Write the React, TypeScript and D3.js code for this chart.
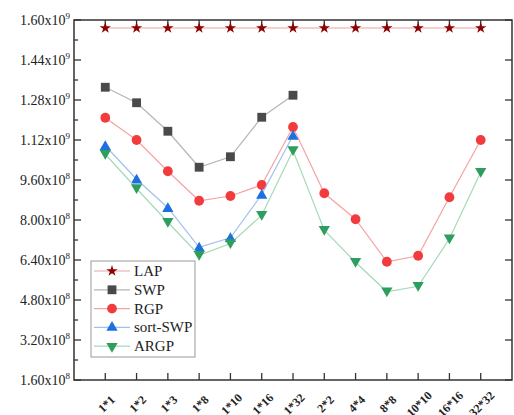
import React, { useEffect, useRef } from 'react';
import * as d3 from 'd3';

// categories and series
const categories = ['1*1', '1*2', '1*3', '1*8', '1*10', '1*16', '1*32', '2*2', '4*4', '8*8', '10*10', '16*16', '32*32'];
const lapValues = [1.568e9, 1.568e9, 1.568e9, 1.568e9, 1.568e9, 1.568e9, 1.568e9, 1.568e9, 1.568e9, 1.568e9, 1.568e9, 1.568e9, 1.568e9];
const swpValues = [1.331e9, 1.269e9, 1.155e9, 1.011e9, 1.053e9, 1.211e9, 1.299e9];
const rgpValues = [1.209e9, 1.12e9, 0.995e9, 0.877e9, 0.896e9, 0.94e9, 1.172e9, 0.907e9, 0.803e9, 0.633e9, 0.657e9, 0.891e9, 1.12e9];
const sortSwpValues = [1.097e9, 0.963e9, 0.849e9, 0.691e9, 0.729e9, 0.902e9, 1.138e9];
const argpValues = [1.063e9, 0.926e9, 0.791e9, 0.659e9, 0.706e9, 0.819e9, 1.078e9, 0.759e9, 0.631e9, 0.513e9, 0.535e9, 0.725e9, 0.991e9];
const yTicks = [1.6e8, 3.2e8, 4.8e8, 6.4e8, 8.0e8, 9.6e8, 1.12e9, 1.28e9, 1.44e9, 1.6e9];

const series = [
  { name: 'LAP', values: lapValues, symbol: d3.symbolStar, size: 40, fill: '#8b0000', line: '#eaa3a3', rotate: 0 },
  { name: 'SWP', values: swpValues, symbol: d3.symbolSquare, size: 78, fill: '#4a4a4a', line: '#b5b5b5', rotate: 0 },
  { name: 'RGP', values: rgpValues, symbol: d3.symbolCircle, size: 75, fill: '#f23b3d', line: '#f6a3a3', rotate: 0 },
  { name: 'sort-SWP', values: sortSwpValues, symbol: d3.symbolTriangle, size: 55, fill: '#1e6fe0', line: '#9fc0f0', rotate: 0 },
  { name: 'ARGP', values: argpValues, symbol: d3.symbolTriangle, size: 55, fill: '#2e9e5e', line: '#a3dbb7', rotate: 180 },
];

const App = () => {
  const svgRef = useRef(null);

  useEffect(() => {
    const width = 514;
    const height = 415;
    const margin = { top: 20, right: 2, bottom: 35, left: 74 };
    const innerW = width - margin.left - margin.right;
    const innerH = height - margin.top - margin.bottom;
    const font = '"Liberation Serif", "Times New Roman", serif';

    const svg = d3.select(svgRef.current);
    svg.selectAll('*').remove();
    svg.attr('width', width).attr('height', height);

    const g = svg.append('g').attr('transform', `translate(${margin.left},${margin.top})`);

    const x = d3.scalePoint().domain(categories).range([0, innerW]).padding(1);
    const y = d3.scaleLinear().domain([1.6e8, 1.6e9]).range([innerH, 0]);

    const axisColor = '#333';

    // frame
    g.append('rect')
      .attr('width', innerW)
      .attr('height', innerH)
      .attr('fill', 'none')
      .attr('stroke', axisColor)
      .attr('stroke-width', 1.5);

    // left ticks (major + minor), right ticks (major)
    yTicks.forEach((t, i) => {
      g.append('line').attr('x1', 0).attr('x2', 7).attr('y1', y(t)).attr('y2', y(t))
        .attr('stroke', axisColor).attr('stroke-width', 1.3);
      g.append('line').attr('x1', innerW).attr('x2', innerW - 7).attr('y1', y(t)).attr('y2', y(t))
        .attr('stroke', axisColor).attr('stroke-width', 1.3);
      if (i < yTicks.length - 1) {
        const m = (t + yTicks[i + 1]) / 2;
        g.append('line').attr('x1', 0).attr('x2', 4).attr('y1', y(m)).attr('y2', y(m))
          .attr('stroke', axisColor).attr('stroke-width', 1.3);
      }
      const [mant, exp] = t.toExponential(2).split('e+');
      const label = g.append('text')
        .attr('x', -4)
        .attr('y', y(t) + 5)
        .attr('text-anchor', 'end')
        .style('font-family', font)
        .style('font-size', '14px')
        .attr('fill', '#222');
      label.append('tspan').text(`${mant}x10`);
      label.append('tspan').attr('dy', -6).style('font-size', '9px').text(exp);
    });

    // top and bottom ticks
    categories.forEach((c) => {
      g.append('line').attr('x1', x(c)).attr('x2', x(c)).attr('y1', innerH).attr('y2', innerH - 7)
        .attr('stroke', axisColor).attr('stroke-width', 1.3);
      g.append('line').attr('x1', x(c)).attr('x2', x(c)).attr('y1', 0).attr('y2', 7)
        .attr('stroke', axisColor).attr('stroke-width', 1.3);
      g.append('text')
        .attr('transform', `translate(${x(c) + 1},${innerH + 24}) rotate(-45)`)
        .attr('text-anchor', 'middle')
        .attr('dy', '0.35em')
        .style('font-family', font)
        .style('font-size', '12px')
        .style('font-weight', 'bold')
        .attr('fill', '#222')
        .text(c);
    });

    const line = d3.line().x((d) => d[0]).y((d) => d[1]);

    series.forEach((s) => {
      const pts = s.values.map((v, i) => [x(categories[i]), y(v)]);
      g.append('path')
        .attr('d', line(pts))
        .attr('fill', 'none')
        .attr('stroke', s.line)
        .attr('stroke-width', 1.2);
      const sym = d3.symbol().type(s.symbol).size(s.size);
      g.selectAll(null)
        .data(pts)
        .enter()
        .append('path')
        .attr('d', sym())
        .attr('transform', (d) => `translate(${d[0]},${d[1] + (s.symbol === d3.symbolTriangle ? (s.rotate ? -1 : 1) : 0)}) rotate(${s.rotate})`)
        .attr('fill', s.fill);
    });

    // legend
    const lg = svg.append('g').attr('transform', 'translate(91,261)');
    lg.append('rect')
      .attr('width', 104)
      .attr('height', 96)
      .attr('fill', 'white')
      .attr('stroke', '#999')
      .attr('stroke-width', 1);
    series.forEach((s, i) => {
      const cy = 10 + i * 18.8;
      lg.append('line').attr('x1', 3).attr('x2', 39).attr('y1', cy).attr('y2', cy)
        .attr('stroke', s.line).attr('stroke-width', 1.2);
      lg.append('path')
        .attr('d', d3.symbol().type(s.symbol).size(s.size)())
        .attr('transform', `translate(21,${cy}) rotate(${s.rotate})`)
        .attr('fill', s.fill);
      lg.append('text')
        .attr('x', 43)
        .attr('y', cy + 5)
        .style('font-family', font)
        .style('font-size', '15px')
        .attr('fill', '#222')
        .text(s.name);
    });
  }, []);

  return (
    <div style={{ position: 'absolute', left: 0, top: 0 }}>
      <svg ref={svgRef} style={{ display: 'block', background: 'white' }} />
    </div>
  );
};

export default App;
